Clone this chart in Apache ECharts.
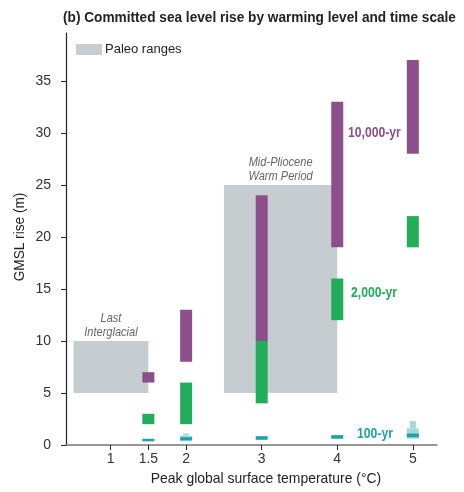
<!DOCTYPE html>
<html><head><meta charset="utf-8">
<script src="https://cdn.jsdelivr.net/npm/echarts@6/dist/echarts.min.js"></script>
<style>html,body{margin:0;padding:0;background:#fff}#c{width:464px;height:492px}</style>
</head><body><div id="c"></div>
<script>
// ---- data ----
const warming = [1.5, 2, 3, 4, 5];
const yr10000Low = [6, 8, 10, 19, 28];
const yr10000High = [7, 13, 24, 33, 37];
const yr2000Low = [2, 2, 4, 12, 19];
const yr2000High = [3, 6, 10, 16, 22];
const yr100Low = [0.35, 0.45, 0.5, 0.6, 0.75];
const yr100High = [0.6, 0.75, 0.85, 0.95, 1.1];
const yr100WideX = [2, 5];
const yr100WideLow = [0.35, 0.6];
const yr100WideHigh = [0.9, 1.6];
const yr100TailLow = [0.9, 1.6];
const yr100TailHigh = [1.1, 2.3];
const paleoNames = ['Last\nInterglacial', 'Mid-Pliocene\nWarm Period'];
const paleoX0 = [0.51, 2.5];
const paleoX1 = [1.5, 4];
const paleoLow = [5, 5];
const paleoHigh = [10, 25];
const xTicks = [1, 1.5, 2, 3, 4, 5];
const yTicks = [0, 5, 10, 15, 20, 25, 30, 35];

const FONT = '"Liberation Sans", Arial, sans-serif';
const C_PURPLE = '#8c4f8c', C_GREEN = '#22ad5a', C_TEAL = '#1fa3a6', C_TEAL_L = '#a6d9d9', C_PALEO = '#c5cdd0';
const NARROW = 0.87;

function zip(xs, lo, hi){ return xs.map((x,i)=>[x, lo[i], hi[i]]); }
function rangeRender(w){
  return function(params, api){
    const x = api.value(0), lo = api.value(1), hi = api.value(2);
    const p1 = api.coord([x, hi]), p2 = api.coord([x, lo]);
    return {type:'rect', shape:{x:p1[0]-w/2, y:p1[1], width:w, height:p2[1]-p1[1]}, style:{fill: api.visual('color')}};
  };
}
function rangeSeries(name, color, data, w){
  return {type:'custom', name, renderItem: rangeRender(w), data, itemStyle:{color},
    encode:{x:0, y:[1,2]}, silent:true, z:3};
}
function txt(x, y, text, font, fill, align, sx, rot){
  return {type:'text', x, y, rotation: rot || 0, scaleX: sx, silent:true,
    style:{text, font, fill, textAlign: align, textVerticalAlign:'middle'}};
}

const chart = echarts.init(document.getElementById('c'), null, {renderer:'canvas'});
chart.setOption({
  animation:false,
  textStyle:{fontFamily:FONT},
  legend:{data:[{name:'Paleo ranges', icon:'rect', itemStyle:{color:C_PALEO}}], left:76, top:43,
    itemWidth:26, itemHeight:11, itemGap:4, padding:0,
    textStyle:{fontFamily:FONT, fontSize:13, color:'#222', padding:[0,0,0,-2]}},
  grid:{left:66, right:27, top:33, bottom:47, containLabel:false},
  xAxis:{type:'value', min:0.41, max:5.32,
    axisLine:{show:true, lineStyle:{color:'#777', width:1.5}},
    axisTick:{show:true, customValues:xTicks, length:5, lineStyle:{color:'#222'}},
    axisLabel:{customValues:xTicks, fontFamily:FONT, fontSize:14, color:'#333', margin:7},
    splitLine:{show:false}},
  yAxis:{type:'value', min:0, max:39.6, interval:5,
    axisLine:{show:true, lineStyle:{color:'#222', width:1.2}},
    axisTick:{show:true, customValues:yTicks, length:5, lineStyle:{color:'#222'}},
    axisLabel:{customValues:yTicks, fontFamily:FONT, fontSize:14, color:'#333', margin:15},
    splitLine:{show:false}},
  series:[
    {type:'custom', name:'Paleo ranges', itemStyle:{color:C_PALEO}, silent:true, z:1,
      data: paleoNames.map((n,i)=>({value:[paleoX0[i], paleoX1[i], paleoLow[i], paleoHigh[i]], name:n})),
      encode:{x:[0,1], y:[2,3]},
      renderItem:function(params, api){
        const a = api.coord([api.value(0), api.value(3)]), b = api.coord([api.value(1), api.value(2)]);
        const name = paleoNames[params.dataIndex];
        return {type:'group', children:[
          {type:'rect', shape:{x:a[0], y:a[1], width:b[0]-a[0], height:b[1]-a[1]}, style:{fill:C_PALEO}},
          {type:'text', x:(a[0]+b[0])/2, y:a[1]-2, scaleX:0.85, style:{text:name, textAlign:'center', textVerticalAlign:'bottom',
            font:'italic 13px ' + FONT, fill:'#666', lineHeight:13.5}}
        ]};
      }},
    rangeSeries('100-yr light', C_TEAL_L, zip(yr100WideX, yr100WideLow, yr100WideHigh), 12),
    rangeSeries('100-yr light tail', C_TEAL_L, zip(yr100WideX, yr100TailLow, yr100TailHigh), 6),
    rangeSeries('10,000-yr', C_PURPLE, zip(warming, yr10000Low, yr10000High), 12),
    rangeSeries('2,000-yr', C_GREEN, zip(warming, yr2000Low, yr2000High), 12),
    rangeSeries('100-yr', C_TEAL, zip(warming, yr100Low, yr100High), 12)
  ],
  graphic:[
    txt(63, 18, '(b) Committed sea level rise by warming level and time scale', 'bold 15px ' + FONT, '#222', 'left', 0.91),
    txt(266, 479, 'Peak global surface temperature (°C)', '15px ' + FONT, '#222', 'center', 0.93),
    txt(20, 237, 'GMSL rise (m)', '15px ' + FONT, '#222', 'center', 0.91, Math.PI/2),
    txt(348, 133, '10,000-yr', 'bold 14px ' + FONT, C_PURPLE, 'left', NARROW),
    txt(351, 293, '2,000-yr', 'bold 14px ' + FONT, C_GREEN, 'left', NARROW),
    txt(357, 434, '100-yr', 'bold 14px ' + FONT, C_TEAL, 'left', NARROW)
  ]
});
</script></body></html>
